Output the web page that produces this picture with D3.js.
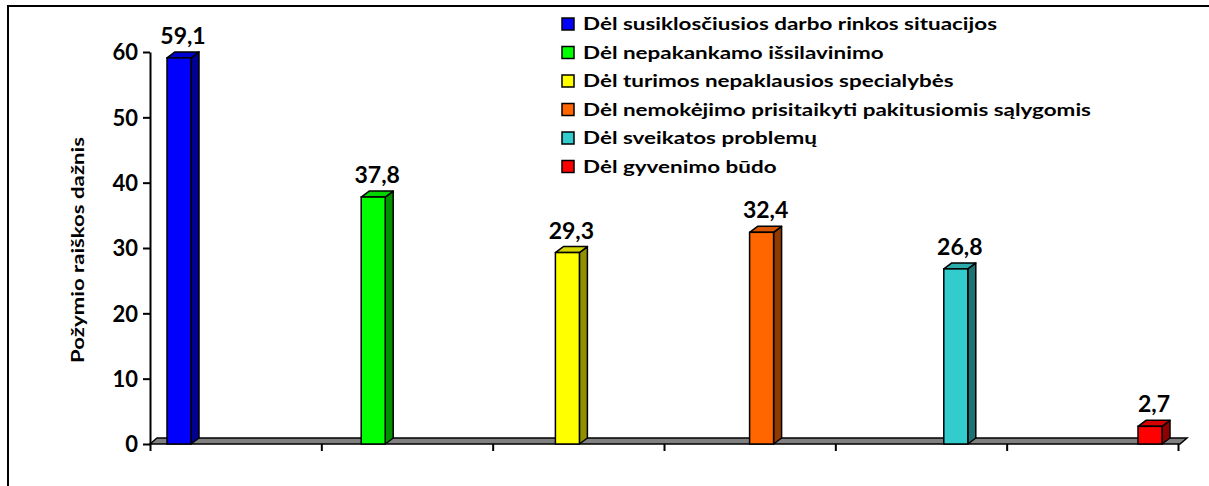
<!DOCTYPE html>
<html>
<head>
<meta charset="utf-8">
<script src="https://cdn.jsdelivr.net/npm/d3@7/dist/d3.min.js"></script>
<style>
  body { margin: 0; background: #fff; }
  text { font-family: Lato, 'Open Sans', sans-serif; font-weight: bold; fill: #000; }
</style>
</head>
<body>
<div id="chart-area"></div>
<script>
// data
var categories = [
  'Dėl susiklosčiusios darbo rinkos situacijos',
  'Dėl nepakankamo išsilavinimo',
  'Dėl turimos nepaklausios specialybės',
  'Dėl nemokėjimo prisitaikyti pakitusiomis sąlygomis',
  'Dėl sveikatos problemų',
  'Dėl gyvenimo būdo'
];
var values = [59.1, 37.8, 29.3, 32.4, 26.8, 2.7];
var yTicks = [0, 10, 20, 30, 40, 50, 60];
var xTickSlots = [0, 1, 2, 3, 4, 5, 6];
var yTitle = 'Požymio raiškos dažnis';

var frontColors = ['#0000ff', '#00ff00', '#ffff00', '#ff6600', '#33cccc', '#ff0000'];

var width = 1209, height = 486;
var depth = { dx: 8, dy: 6 };
var barWidth = 24;

var svg = d3.select('#chart-area')
  .append('svg')
    .attr('width', width)
    .attr('height', height);

// outer chart border (runs off the right and bottom of the picture)
svg.append('rect')
  .attr('x', 8).attr('y', 6)
  .attr('width', 1220).attr('height', 500)
  .attr('fill', 'none')
  .attr('stroke', '#000')
  .attr('stroke-width', 2);

var y = d3.scaleLinear().domain([0, 60]).range([444, 52]);
var xTick = d3.scaleLinear().domain([0, 6]).range([150, 1178]);
var x = d3.scalePoint().domain(categories).range([167, 1138]);
var color = d3.scaleOrdinal().domain(categories).range(frontColors);
var lt = d3.formatLocale({ decimal: ',', thousands: ' ', grouping: [3], currency: ['', ''] });
var fmt = lt.format('.1f');

// floor of the 3d chart
var x0 = xTick(0), x1 = xTick(6), y0 = y(0);
svg.append('polygon')
  .attr('points', [[x0, y0], [x0 + depth.dx - 1, y0 - depth.dy], [x1 + depth.dx + 1, y0 - depth.dy], [x1 + 2, y0]].join(' '))
  .attr('fill', '#808080')
  .attr('stroke', '#000')
  .attr('stroke-width', 1.5);

// bars: side face, top face, front face
var bars = svg.selectAll('g.bar')
  .data(values.map(function (v, i) { return { name: categories[i], value: v }; }))
  .enter().append('g')
    .attr('class', 'bar');

bars.append('polygon')
  .attr('points', function (d) {
    var l = x(d.name) + barWidth, t = y(d.value);
    return [[l, t], [l + depth.dx, t - depth.dy], [l + depth.dx, y0 - depth.dy], [l, y0]].join(' ');
  })
  .attr('fill', function (d) { return d3.color(color(d.name)).darker(1.6); })
  .attr('stroke', '#000').attr('stroke-width', 1.5).attr('stroke-linejoin', 'round');

bars.append('polygon')
  .attr('points', function (d) {
    var l = x(d.name), t = y(d.value);
    return [[l, t], [l + depth.dx, t - depth.dy], [l + barWidth + depth.dx, t - depth.dy], [l + barWidth, t]].join(' ');
  })
  .attr('fill', function (d) { return d3.color(color(d.name)).darker(0.5); })
  .attr('stroke', '#000').attr('stroke-width', 1.5).attr('stroke-linejoin', 'round');

bars.append('rect')
  .attr('x', function (d) { return x(d.name); })
  .attr('y', function (d) { return y(d.value); })
  .attr('width', barWidth)
  .attr('height', function (d) { return y0 - y(d.value); })
  .attr('fill', function (d) { return color(d.name); })
  .attr('stroke', '#000').attr('stroke-width', 1.5);

// value labels
bars.append('text')
  .attr('x', function (d) { return x(d.name) + (barWidth + depth.dx) / 2; })
  .attr('y', function (d) { return y(d.value) - depth.dy - 8; })
  .attr('text-anchor', 'middle')
  .attr('font-size', '23px')
  .text(function (d) { return fmt(d.value); });

// x axis ticks
var xAxis = svg.append('g')
  .attr('transform', 'translate(0,' + y0 + ')')
  .call(d3.axisBottom(xTick).tickValues(xTickSlots).tickSize(7).tickSizeOuter(0).tickFormat(''));
xAxis.select('.domain').remove();
xAxis.selectAll('line').attr('stroke', '#000').attr('stroke-width', 2);

// y axis
var yAxis = svg.append('g')
  .attr('transform', 'translate(' + x0 + ',0)')
  .call(d3.axisLeft(y).tickValues(yTicks).tickSize(7).tickSizeOuter(0).tickPadding(5));
yAxis.select('.domain').attr('stroke', '#000').attr('stroke-width', 2);
yAxis.selectAll('line').attr('stroke', '#000').attr('stroke-width', 2);
yAxis.selectAll('text')
  .attr('font-family', 'Lato, sans-serif')
  .attr('font-weight', 'bold')
  .attr('font-size', '22px')
  .attr('dy', '0.36em');

// y axis title
var title = svg.append('text')
  .attr('transform', 'translate(78,250) rotate(-90)')
  .attr('text-anchor', 'middle')
  .attr('dominant-baseline', 'central')
  .attr('font-size', '16.5px')
  .text(yTitle);
title.attr('textLength', 226).attr('lengthAdjust', 'spacingAndGlyphs');

// legend
var legend = svg.selectAll('g.legend')
  .data(categories)
  .enter().append('g')
    .attr('class', 'legend')
    .attr('transform', function (d, i) { return 'translate(562,' + (24 + i * 28.5) + ')'; });

legend.append('rect')
  .attr('x', 0).attr('y', -6)
  .attr('width', 12).attr('height', 12)
  .attr('fill', function (d) { return color(d); })
  .attr('stroke', '#000').attr('stroke-width', 1.5);

var legendText = legend.append('text')
  .attr('x', 21)
  .attr('dominant-baseline', 'central')
  .attr('font-size', '16.5px')
  .text(function (d) { return d; });

// the reference is stretched sideways, so fit the legend text to its width
var stretch = 414 / legendText.node().getComputedTextLength();
legendText.each(function () {
  var len = this.getComputedTextLength();
  d3.select(this).attr('textLength', len * stretch).attr('lengthAdjust', 'spacingAndGlyphs');
});
</script>
</body>
</html>
